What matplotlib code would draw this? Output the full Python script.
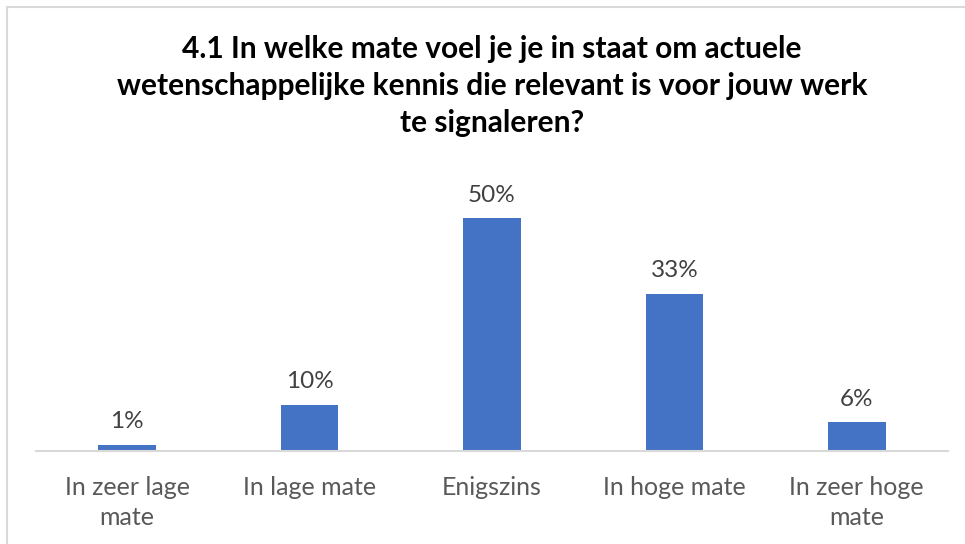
import matplotlib
matplotlib.use("Agg")
import matplotlib.pyplot as plt
from matplotlib.patches import Rectangle

categories = ["In zeer lage\nmate", "In lage mate", "Enigszins", "In hoge mate", "In zeer hoge\nmate"]
values = [1.3, 9.9, 50.0, 33.8, 6.2]
labels = ["1%", "10%", "50%", "33%", "6%"]
title_lines = ["4.1 In welke mate voel je je in staat om actuele",
               "wetenschappelijke kennis die relevant is voor jouw werk",
               "te signaleren?"]

plt.rcParams['font.family'] = ['Lato', 'DejaVu Sans']

W, H = 965, 544
fig = plt.figure(figsize=(W/100, H/100), dpi=100)
fig.patch.set_facecolor("white")

# outer border
fig.add_artist(Rectangle((7/W, -0.1), 1.2, (H-7)/H + 0.1, transform=fig.transFigure,
                         fill=False, edgecolor="#d9d9d9", linewidth=1.5))

ax = fig.add_axes([36/W, (H-451)/H, 912/W, 256/H])
x = range(len(categories))
bars = ax.bar(x, values, width=0.315, color="#4472c4")
ax.set_xlim(-0.5, len(categories)-0.5)
ax.set_ylim(0, 55)
for s in ["top", "left", "right"]:
    ax.spines[s].set_visible(False)
ax.spines["bottom"].set_color("#d9d9d9")
ax.spines["bottom"].set_linewidth(1.5)
ax.set_yticks([])
ax.set_xticks(list(x))
ax.set_xticklabels(categories, fontsize=18, color="#595959", linespacing=1.38)
ax.tick_params(axis="x", length=0, pad=18)
for xi, v, lab in zip(x, values, labels):
    ax.annotate(lab, (xi, v), xytext=(0, 9), textcoords="offset points",
                ha="center", va="bottom", fontsize=17.5, color="#404040")

for line, yb in zip(title_lines, [58, 95, 132]):
    fig.text(492/W, 1 - yb/H, line, ha="center", va="baseline", fontsize=21.5,
             fontweight="bold", color="black")

fig.savefig("out.png", dpi=100)
